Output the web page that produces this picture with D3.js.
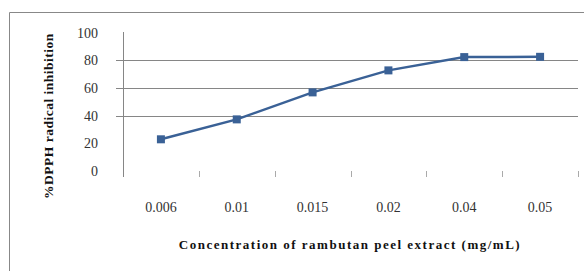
<!DOCTYPE html>
<html>
<head>
<meta charset="utf-8">
<script src="https://cdn.jsdelivr.net/npm/d3@7"></script>
<style>
  body { margin: 0; background: white; }
</style>
</head>
<body>
<div id="chart"></div>
<script>
let width = 584;
let height = 271;
let serif = "'Times New Roman', 'Liberation Serif', Times, serif";

// data
let concentrations = ["0.006", "0.01", "0.015", "0.02", "0.04", "0.05"];
let inhibition = [22.9, 37.3, 56.8, 72.7, 82.3, 82.5];
let yTicks = [0, 20, 40, 60, 80, 100];
let gridTicks = [40, 60, 80];

let svg = d3.select("#chart")
    .append("svg")
        .attr("width", width)
        .attr("height", height)
        .attr("font-family", serif)
        .style("background-color", "white")
;

// outer chart border (cropped on the right and bottom)
svg.append("path")
    .attr("d", "M9.5," + height + " V12.5 H" + width)
    .attr("fill", "none")
    .attr("stroke", "#888")
    .attr("stroke-width", 1)
;

let x = d3.scaleBand()
    .domain(concentrations)
    .range([123, 578]);

let y = d3.scaleLinear()
    .domain([0, 100])
    .range([171, 32.6]);

// gridlines
svg.selectAll(".grid")
    .data(gridTicks)
    .enter().append("line")
        .attr("class", "grid")
        .attr("x1", 116)
        .attr("x2", 578)
        .attr("y1", d => Math.round(y(d)) + 0.5)
        .attr("y2", d => Math.round(y(d)) + 0.5)
        .attr("stroke", "#868686")
        .attr("stroke-width", 1)
;

// y axis line
svg.append("line")
    .attr("x1", 123.5).attr("x2", 123.5)
    .attr("y1", 32).attr("y2", 177)
    .attr("stroke", "#868686")
;

// y tick labels
svg.selectAll(".ylab")
    .data(yTicks)
    .enter().append("text")
        .attr("class", "ylab")
        .attr("x", 98)
        .attr("y", d => y(d))
        .attr("dy", "0.35em")
        .attr("text-anchor", "end")
        .attr("font-size", 14)
        .attr("fill", "#333")
        .text(d => d)
;

// x tick marks between categories (below the plot)
svg.selectAll(".xtick")
    .data(concentrations.slice(1).concat(["end"]))
    .enter().append("line")
        .attr("class", "xtick")
        .attr("x1", (d, i) => Math.round(x.range()[0] + x.bandwidth() * (i + 1)) + 0.5)
        .attr("x2", (d, i) => Math.round(x.range()[0] + x.bandwidth() * (i + 1)) + 0.5)
        .attr("y1", 171)
        .attr("y2", 177)
        .attr("stroke", "#aaa")
;

// x tick labels
svg.selectAll(".xlab")
    .data(concentrations)
    .enter().append("text")
        .attr("class", "xlab")
        .attr("x", d => x(d) + x.bandwidth() / 2)
        .attr("y", 212)
        .attr("text-anchor", "middle")
        .attr("font-size", 14)
        .attr("fill", "#333")
        .text(d => d)
;

// series line
let pts = concentrations.map((c, i) => [x(c) + x.bandwidth() / 2, y(inhibition[i])]);

svg.append("path")
    .datum(pts)
    .attr("d", d3.line())
    .attr("fill", "none")
    .attr("stroke", "#3A6196")
    .attr("stroke-width", 2.5)
;

svg.selectAll(".marker")
    .data(pts)
    .enter().append("rect")
        .attr("class", "marker")
        .attr("x", d => d[0] - 4)
        .attr("y", d => d[1] - 4)
        .attr("width", 8)
        .attr("height", 8)
        .attr("fill", "#3A6196")
;

// axis titles
svg.append("text")
    .attr("transform", "translate(53,116) rotate(-90)")
    .attr("text-anchor", "middle")
    .attr("font-size", 13.5)
    .attr("font-weight", "bold")
    .attr("letter-spacing", 0.5)
    .attr("fill", "#111")
    .text("%DPPH radical inhibition")
;

svg.append("text")
    .attr("x", 350)
    .attr("y", 249)
    .attr("text-anchor", "middle")
    .attr("font-size", 13)
    .attr("font-weight", "bold")
    .attr("letter-spacing", 1.5)
    .attr("fill", "#111")
    .text("Concentration of rambutan peel extract (mg/mL)")
;
</script>
</body>
</html>
